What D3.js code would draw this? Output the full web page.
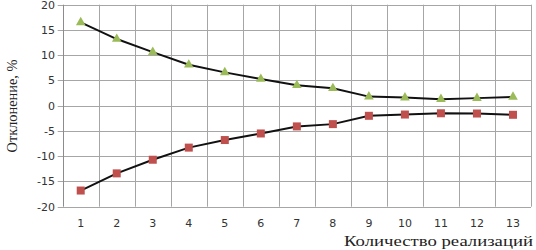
<!DOCTYPE html>
<html>
<head>
<meta charset="utf-8">
<style>
  body { margin: 0; background: #fff; }
  svg { display: block; }
</style>
</head>
<body>
<script src="https://cdn.jsdelivr.net/npm/d3@7"></script>
<script>
    // Data
    let runs = [1, 2, 3, 4, 5, 6, 7, 8, 9, 10, 11, 12, 13];
    let upper = [16.5, 13.2, 10.6, 8.1, 6.6, 5.3, 4.05, 3.45, 1.8, 1.6, 1.3, 1.5, 1.75];
    let lower = [-16.8, -13.4, -10.7, -8.3, -6.8, -5.5, -4.1, -3.65, -2.0, -1.75, -1.5, -1.55, -1.8];
    let yTicks = [-20, -15, -10, -5, 0, 5, 10, 15, 20];

    let width = 536, height = 250;
    let margin = { top: 4.7, right: 5, bottom: 43.3, left: 62.7 };

    let svg = d3.select("body").append("svg")
        .attr("width", width)
        .attr("height", height);

    let x = d3.scaleBand()
        .domain(runs)
        .range([margin.left, width - margin.right]);

    let y = d3.scaleLinear()
        .domain([-20, 20])
        .range([height - margin.bottom, margin.top]);

    // grid
    let grid = svg.append("g");
    grid.selectAll(".hg")
        .data(yTicks)
        .enter().append("line")
        .attr("x1", margin.left - 5)
        .attr("x2", width - margin.right)
        .attr("y1", d => Math.round(y(d)) + 0.5)
        .attr("y2", d => Math.round(y(d)) + 0.5)
        .attr("stroke", "#a6a6a6")
        .attr("stroke-width", 1);

    let edges = runs.map(r => x(r)).concat([x(runs[runs.length - 1]) + x.bandwidth()]);
    grid.selectAll(".vg")
        .data(edges)
        .enter().append("line")
        .attr("x1", d => Math.round(d) + 0.5)
        .attr("x2", d => Math.round(d) + 0.5)
        .attr("y1", y(20))
        .attr("y2", y(-20))
        .attr("stroke", (d, i) => i === 0 ? "#8c8c8c" : "#a6a6a6")
        .attr("stroke-width", 1);

    // y tick labels
    svg.selectAll(".yl")
        .data(yTicks)
        .enter().append("text")
        .attr("x", 55)
        .attr("y", d => y(d))
        .attr("dy", "0.35em")
        .attr("text-anchor", "end")
        .attr("font-family", "DejaVu Sans, Verdana, sans-serif")
        .attr("font-size", 11)
        .attr("fill", "#333")
        .text(d => d);

    // x tick labels
    svg.selectAll(".xl")
        .data(runs)
        .enter().append("text")
        .attr("x", d => x(d) + x.bandwidth() / 2)
        .attr("y", 223)
        .attr("dy", "0.35em")
        .attr("text-anchor", "middle")
        .attr("font-family", "DejaVu Sans, Verdana, sans-serif")
        .attr("font-size", 11)
        .attr("fill", "#333")
        .text(d => d);

    // lines
    let line = d3.line()
        .x((d, i) => x(runs[i]) + x.bandwidth() / 2)
        .y(d => y(d));

    [upper, lower].forEach(s => {
        svg.append("path")
            .datum(s)
            .attr("d", line)
            .attr("fill", "none")
            .attr("stroke", "#111")
            .attr("stroke-width", 2);
    });

    // markers
    let tri = d3.symbol().type(d3.symbolTriangle).size(40);
    svg.selectAll(".tri")
        .data(upper)
        .enter().append("path")
        .attr("d", tri)
        .attr("transform", (d, i) => `translate(${x(runs[i]) + x.bandwidth() / 2},${y(d)})`)
        .attr("fill", "#9bbb59");

    svg.selectAll(".sq")
        .data(lower)
        .enter().append("rect")
        .attr("x", (d, i) => x(runs[i]) + x.bandwidth() / 2 - 4)
        .attr("y", d => y(d) - 4)
        .attr("width", 8)
        .attr("height", 8)
        .attr("fill", "#c0504d");

    // axis titles (stretched like in the original picture)
    svg.append("text")
        .attr("transform", "translate(17,106) rotate(-90)")
        .attr("text-anchor", "middle")
        .attr("font-family", "Liberation Serif, Times New Roman, serif")
        .attr("font-size", 15)
        .attr("textLength", 93)
        .attr("lengthAdjust", "spacingAndGlyphs")
        .attr("fill", "#222")
        .text("Отклонение, %");

    svg.append("text")
        .attr("x", 533)
        .attr("y", 246)
        .attr("text-anchor", "end")
        .attr("font-family", "Liberation Serif, Times New Roman, serif")
        .attr("font-size", 15)
        .attr("textLength", 189)
        .attr("lengthAdjust", "spacingAndGlyphs")
        .attr("fill", "#222")
        .text("Количество реализаций");
</script>
</body>
</html>
